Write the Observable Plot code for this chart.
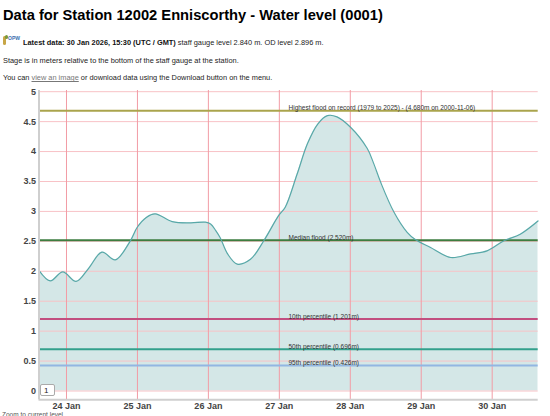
<!DOCTYPE html>
<html>
<head>
<meta charset="utf-8">
<script src="https://cdn.jsdelivr.net/npm/d3@7"></script>
<script src="https://cdn.jsdelivr.net/npm/@observablehq/plot@0.6"></script>
<style>
  html, body { margin:0; padding:0; width:550px; height:416px; overflow:hidden; background:#fff; font-family:"Liberation Sans", Arial, sans-serif; color:#111; }
  .abs { position:absolute; white-space:nowrap; }
  .title { left:3px; top:7.6px; font-size:14.7px; line-height:14.7px; font-weight:bold; color:#000; }
  .small { font-size:7.4px; line-height:7.4px; color:#222; }
  .link { color:#777; text-decoration:underline; }
  #chart { position:absolute; left:0; top:86px; }
  .zoombox { position:absolute; left:40px; top:384px; width:15px; height:12px; background:#fff; border:1px solid #aaa; border-radius:2px; font-size:8px; line-height:12px; padding-left:3px; box-sizing:border-box; color:#222; }
  .zoomtext { position:absolute; left:2px; top:411.5px; font-size:6.5px; line-height:6.5px; color:#555; white-space:nowrap; }
</style>
</head>
<body>
<div class="abs title">Data for Station 12002 Enniscorthy - Water level (0001)</div>
<div class="abs" style="left:3px; top:35px; width:6px; height:10px;">
  <div style="position:absolute; left:0; top:1px; width:3px; height:9px; background:#c7a646; border-radius:2px 0 2px 2px;"></div>
  <div style="position:absolute; left:2px; top:0; width:3px; height:4px; background:#7a9a3a; border-radius:2px;"></div>
</div>
<div class="abs" style="left:8px; top:35.5px; font-size:5px; line-height:5px; color:#3a6fb0; font-weight:bold;">OPW</div>
<div class="abs small" style="left:23px; top:39.4px;"><b style="color:#111">Latest data: 30 Jan 2026, 15:30 (UTC / GMT)</b> staff gauge level 2.840 m. OD level 2.896 m.</div>
<div class="abs small" style="left:3px; top:56.7px;">Stage is in meters relative to the bottom of the staff gauge at the station.</div>
<div class="abs small" style="left:3px; top:74.4px;">You can <span class="link">view an image</span> or download data using the Download button on the menu.</div>
<div id="chart"></div>
<div class="zoombox">1</div>
<div class="zoomtext">Zoom to current level</div>
<script>
// ---- data ----
const times = [
  "2026-01-23T14:45","2026-01-23T18:30","2026-01-23T22:45","2026-01-24T03:15","2026-01-24T07:30",
  "2026-01-24T12:00","2026-01-24T16:30","2026-01-24T21:30","2026-01-25T00:00","2026-01-25T03:00",
  "2026-01-25T06:00","2026-01-25T11:45","2026-01-25T18:00","2026-01-25T23:00","2026-01-26T00:45",
  "2026-01-26T02:30","2026-01-26T04:00","2026-01-26T06:30","2026-01-26T09:45","2026-01-26T14:15",
  "2026-01-26T18:45","2026-01-26T23:45","2026-01-27T02:00","2026-01-27T06:00","2026-01-27T09:30",
  "2026-01-27T13:00","2026-01-27T16:15","2026-01-27T19:30","2026-01-28T00:00","2026-01-28T05:45",
  "2026-01-28T08:00","2026-01-28T10:15","2026-01-28T14:45","2026-01-28T19:15","2026-01-28T22:00",
  "2026-01-29T03:00","2026-01-29T10:00","2026-01-29T16:45","2026-01-29T22:15","2026-01-30T04:00",
  "2026-01-30T09:30","2026-01-30T15:30"
];
const levels = [
  2.01, 1.84, 1.99, 1.83, 2.05,
  2.32, 2.19, 2.50, 2.74, 2.90,
  2.96, 2.83, 2.81, 2.82, 2.79,
  2.68, 2.56, 2.29, 2.12, 2.20,
  2.51, 2.93, 3.07, 3.62, 4.13,
  4.46, 4.60, 4.58, 4.41, 4.05,
  3.79, 3.49, 2.99, 2.65, 2.53,
  2.40, 2.23, 2.29, 2.34, 2.51,
  2.62, 2.84
];
const dayTickLabels = ["2026-01-24","2026-01-25","2026-01-26","2026-01-27","2026-01-28","2026-01-29","2026-01-30"];
const yTicks = [0, 0.5, 1, 1.5, 2, 2.5, 3, 3.5, 4, 4.5, 5];
const thresholdValues = [4.68, 2.52, 1.201, 0.696, 0.426];
const thresholdLabels = [
  "Highest flood on record (1979 to 2025) - (4.680m on 2000-11-06)",
  "Median flood (2.520m)",
  "10th percentile (1.201m)",
  "50th percentile (0.696m)",
  "95th percentile (0.426m)"
];
const thresholdColors = ["#aaa44c", "#3d7d40", "#c24f80", "#33a08c", "#92b6e2"];
const xDomainText = ["2026-01-23T14:42", "2026-01-30T15:34"];
const yDomain = [-0.147, 5.02];

// ---- build ----
const parseT = d3.utcParse("%Y-%m-%dT%H:%M");
const parseD = d3.utcParse("%Y-%m-%d");
const data = times.map((t, i) => ({date: parseT(t), level: levels[i]}));
const dayTicks = dayTickLabels.map(parseD);
const xDomain = xDomainText.map(parseT);
const thresholds = thresholdValues.map((v, i) => ({value: v, label: thresholdLabels[i], color: thresholdColors[i]}));

const chart = Plot.plot({
  width: 550,
  height: 330,
  marginTop: 4,
  marginBottom: 16.7,
  marginLeft: 38.5,
  marginRight: 12.3,
  x: {type: "utc", domain: xDomain, ticks: dayTicks, tickFormat: d3.utcFormat("%-d %b"), tickSize: 0, tickPadding: 3, label: null},
  y: {domain: yDomain, ticks: yTicks, tickFormat: d => String(d), tickSize: 0, tickPadding: 3, label: null},
  style: {fontFamily: "Liberation Sans, Arial, sans-serif", fontSize: "9px", color: "#444", fontWeight: "bold", background: "transparent", overflow: "visible"},
  marks: [
    Plot.areaY(data, {x: "date", y1: 0, y2: "level", fill: "#d4e7e7", curve: "catmull-rom"}),
    Plot.ruleY(yTicks, {stroke: "#f8c2c6", strokeWidth: 1}),
    Plot.ruleX(dayTicks, {stroke: "#f29ca5", strokeWidth: 1}),
    Plot.ruleY(thresholds, {y: "value", stroke: d => d.color, strokeWidth: 2}),
    Plot.text(thresholds, {y: "value", text: "label", frameAnchor: "left", textAnchor: "start", lineAnchor: "bottom", dx: 249.5, dy: -0.5, fontSize: 6.5, fill: "#333", fontWeight: "normal"}),
    Plot.lineY(data, {x: "date", y: "level", stroke: "#58a8a8", strokeWidth: 1.2, curve: "catmull-rom"}),
    Plot.ruleX([xDomain[0]], {stroke: "#cfcfcf", strokeWidth: 2}),
    Plot.ruleY([yDomain[0]], {stroke: "#cfcfcf", strokeWidth: 2})
  ]
});
document.getElementById("chart").appendChild(chart);
</script>
</body>
</html>
